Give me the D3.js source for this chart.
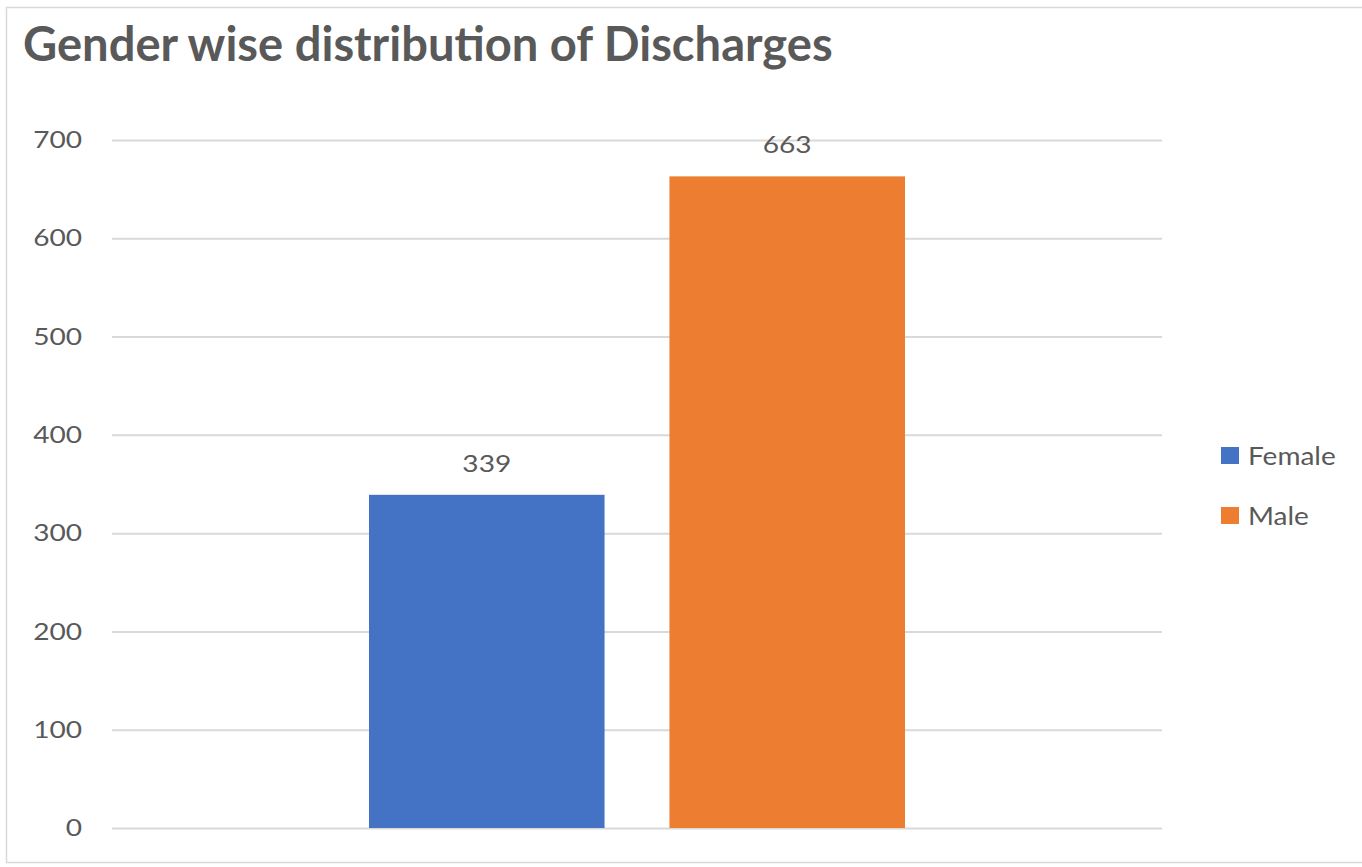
<!DOCTYPE html>
<html>
<head>
<meta charset="utf-8">
<script src="https://cdn.jsdelivr.net/npm/d3@7"></script>
<style>
html,body{margin:0;padding:0;background:#fff;}
svg{display:block;font-family:Lato, "Open Sans", sans-serif;}
</style>
</head>
<body>
<svg id="chart" width="1362" height="867"></svg>
<script>
const title = "Gender wise distribution of Discharges";
const categories = ["Discharges"];
const seriesNames = ["Female", "Male"];
const seriesValues = [339, 663];
const seriesColors = ["#4472C4", "#ED7D31"];
const yTicks = [0, 100, 200, 300, 400, 500, 600, 700];

const svg = d3.select("#chart");
const W = 1362, H = 867;
const plot = {left: 112, right: 1162, top: 140, bottom: 828};
const textColor = "#595959";
const STRETCH = 1.17;

function stretch(sel, f) {
  sel.each(function() {
    const w = this.getComputedTextLength();
    d3.select(this).attr("textLength", w * f).attr("lengthAdjust", "spacingAndGlyphs");
  });
}

// chart border
svg.append("rect")
  .attr("x", 6.5).attr("y", 7.5)
  .attr("width", W + 10).attr("height", 855)
  .attr("fill", "#fff").attr("stroke", "#d9d9d9").attr("stroke-width", 1.5);

// title
const t = svg.append("text")
  .attr("x", 23).attr("y", 61)
  .attr("fill", textColor)
  .attr("font-weight", 700)
  .attr("font-size", 40)
  .text(title);
const tw = t.node().getComputedTextLength();
t.attr("font-size", 40 * 810 / tw);

const y = d3.scaleLinear().domain([0, 700]).range([plot.bottom, plot.top]);
const x0 = d3.scaleBand().domain(categories).range([plot.left, plot.right])
  .paddingInner(0).paddingOuter(0.4795);
const x1 = d3.scaleBand().domain(seriesNames).range([0, x0.bandwidth()])
  .paddingInner(0.216).paddingOuter(0);

// gridlines + tick labels via axis
const axis = d3.axisLeft(y).tickValues(yTicks)
  .tickSize(-(plot.right - plot.left)).tickPadding(30).tickFormat(d3.format("d"));
const ag = svg.append("g").attr("transform", `translate(${plot.left},0)`).call(axis);
ag.select(".domain").remove();
ag.selectAll(".tick line").attr("stroke", "#d9d9d9").attr("stroke-width", 2);
ag.selectAll(".tick text").attr("fill", textColor).attr("font-size", 24)
  .attr("font-family", "Lato, 'Open Sans', sans-serif");
stretch(ag.selectAll(".tick text"), STRETCH);

// bars
const data = seriesNames.map((s, i) => ({cat: categories[0], s, v: seriesValues[i], c: seriesColors[i]}));
svg.append("g").selectAll("rect").data(data).join("rect")
  .attr("x", d => x0(d.cat) + x1(d.s))
  .attr("y", d => y(d.v))
  .attr("width", x1.bandwidth())
  .attr("height", d => y(0) - y(d.v))
  .attr("fill", d => d.c);

// data labels
const dl = svg.append("g").selectAll("text").data(data).join("text")
  .attr("x", d => x0(d.cat) + x1(d.s) + x1.bandwidth() / 2)
  .attr("y", d => y(d.v) - 23)
  .attr("text-anchor", "middle")
  .attr("fill", textColor)
  .attr("font-size", 24)
  .text(d => d.v);
stretch(dl, STRETCH);

// legend
const lg = svg.append("g").selectAll("g").data(data).join("g")
  .attr("transform", (d, i) => `translate(1221, ${456 + i * 60})`);
lg.append("rect").attr("x", 0).attr("y", -9).attr("width", 18).attr("height", 17).attr("fill", d => d.c);
const lt = lg.append("text").attr("x", 27).attr("y", 0).attr("dy", "0.35em")
  .attr("fill", textColor).attr("font-size", 25).text(d => d.s);
stretch(lt, 1.12);
</script>
</body>
</html>
